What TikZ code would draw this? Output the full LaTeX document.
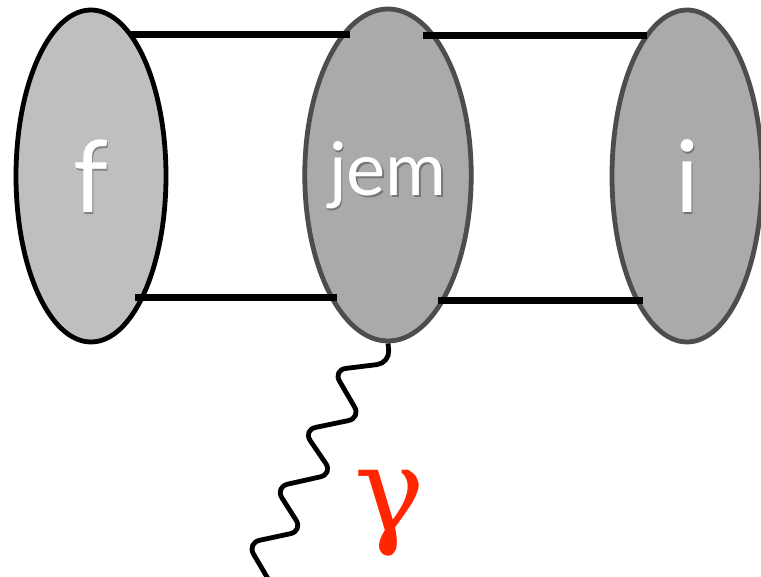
\documentclass[tikz,border=0pt]{standalone}
\usepackage{fontspec}
\usetikzlibrary{shapes.geometric,backgrounds}
\newfontfamily\labelfont{Lato}
\newfontfamily\greekfont{DejaVu Serif}
\definecolor{paleblob}{RGB}{191,191,191}
\definecolor{midblob}{RGB}{170,170,170}
\definecolor{rimgray}{RGB}{77,77,77}
\definecolor{photonred}{RGB}{255,38,0}
\newcommand{\bigfont}{\labelfont\fontsize{100}{100}\selectfont}
\newcommand{\midfont}{\labelfont\fontsize{74}{74}\selectfont}

\tikzset{
  blob/.style={ellipse, inner sep=0pt, minimum width=150pt, minimum height=332pt,
    line width=4.8pt, text=white},
  pale/.style={blob, draw=black, fill=paleblob},
  dark/.style={blob, draw=rimgray, fill=midblob},
  % soft drop shadow under the white label, drawn inside the blob
  shadowed/.style 2 args={font=#2, path picture={
    \node[inner sep=0pt, text=black, opacity=0.3, font=#2]
      at ([shift={(1.5pt,-2pt)}]path picture bounding box.center) {#1};}},
  bar/.style={line width=7pt},
  photon/.style={line width=4.8pt, rounded corners=13pt, line join=round},
  gammalabel/.style={text=photonred, font=\greekfont\fontsize{118}{118}\selectfont,
    inner sep=0pt, anchor=base}
}

\begin{document}
\begin{tikzpicture}[x=1pt, y=-1pt]
  \useasboundingbox (0,0) rectangle (761,577);
  \clip (0,0) rectangle (761,577);

  % blobs: final state, current vertex, initial state
  \node[pale, shadowed={f}{\bigfont}] (f) at (91,176) {f};
  \node[dark, shadowed={jem}{\midfont}] (jem) at (388,175) {jem};
  \node[dark, shadowed={i}{\bigfont}] (i) at (687,176) {i};

  % spectator lines between the blobs (offsets from the blob centres)
  \draw[bar] ([shift={(39,-141)}]f.center) -- ([shift={(-38,-140)}]jem.center);
  \draw[bar] ([shift={(44,122)}]f.center) -- ([shift={(-51,123)}]jem.center);
  \draw[bar] ([shift={(35,-139)}]jem.center) -- ([shift={(-40,-140)}]i.center);
  \draw[bar] ([shift={(50,126)}]jem.center) -- ([shift={(-44,125)}]i.center);

  % free end of the photon line, below the page edge
  \coordinate (photonend) at (277,594);

  % photon leaving the current vertex, kept behind the blob
  \begin{scope}[on background layer]
    \fill[white] (0,0) rectangle (761,577);
    \draw[photon] (jem.south) -- (390,363) -- (333,370) -- (361,418) -- (303,430)
      -- (333,474) -- (275,487) -- (303,531) -- (247,543) -- (photonend);
  \end{scope}

  % photon label
  \node[gammalabel] (gamma) at (390,531) {γ};
\end{tikzpicture}
\end{document}
